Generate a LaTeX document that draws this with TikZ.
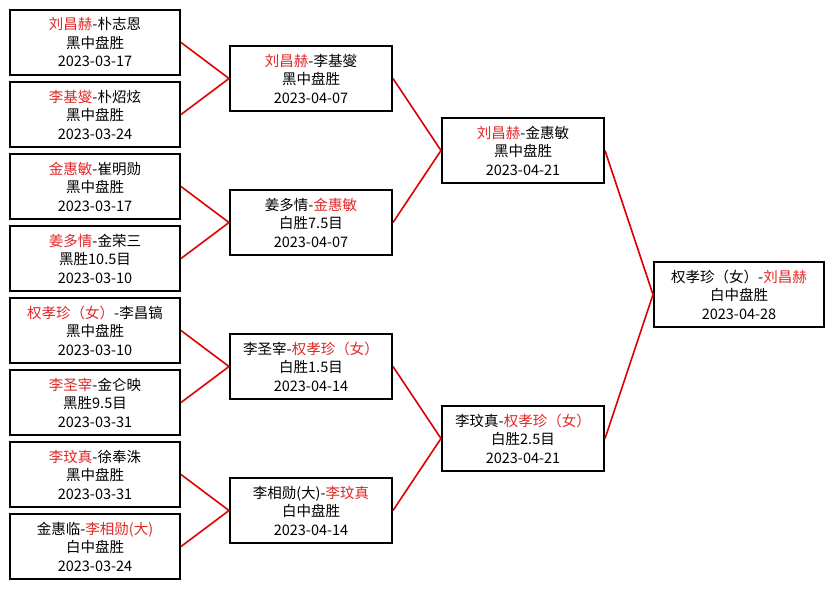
\documentclass[tikz,border=0pt]{standalone}
\usepackage{fontspec}
\setmainfont{Noto Sans CJK SC}
\usepackage{xcolor}
\usetikzlibrary{positioning}
\definecolor{winred}{RGB}{225,40,40}
\definecolor{linkred}{RGB}{225,0,0}
\newcommand{\win}[1]{\textcolor{winred}{#1}}
\tikzset{
  game/.style={draw, line width=2pt, minimum height=65pt, inner sep=0pt,
    align=center, font=\fontsize{14.5}{18.5}\selectfont},
  wide/.style={game, minimum width=170pt},
  narrow/.style={game, minimum width=162pt},
  link/.style={linkred, line width=1.6pt}
}
\begin{document}
\begin{tikzpicture}[x=1pt,y=-1pt]
        \def\ca{95}
        \def\cb{311}
        \def\cc{523}
        \def\cd{739}
        \useasboundingbox (0,0) rectangle (835,589);
        \fill[white] (0,0) rectangle (835,589);
        %First round
        \node[wide] (ra) at (\ca,42.5) {\win{刘昌赫}-朴志恩\\黑中盘胜\\2023-03-17};
        \node[wide] (rb) at (\ca,114.5) {\win{李基燮}-朴炤炫\\黑中盘胜\\2023-03-24};
        \node[wide] (rc) at (\ca,186.5) {\win{金惠敏}-崔明勋\\黑中盘胜\\2023-03-17};
        \node[wide] (rd) at (\ca,258.5) {\win{姜多情}-金荣三\\黑胜10.5目\\2023-03-10};
        \node[wide] (re) at (\ca,330.5) {\win{权孝珍（女）}-李昌镐\\黑中盘胜\\2023-03-10};
        \node[wide] (rf) at (\ca,402.5) {\win{李圣宰}-金仑映\\黑胜9.5目\\2023-03-31};
        \node[wide] (rg) at (\ca,474.5) {\win{李玟真}-徐奉洙\\黑中盘胜\\2023-03-31};
        \node[wide] (rh) at (\ca,546.5) {金惠临-\win{李相勋(大)}\\白中盘胜\\2023-03-24};
        %Quarter finals
        \node[narrow] (qa) at (\cb,78.5) {\win{刘昌赫}-李基燮\\黑中盘胜\\2023-04-07};
        \node[narrow] (qb) at (\cb,222.5) {姜多情-\win{金惠敏}\\白胜7.5目\\2023-04-07};
        \node[narrow] (qc) at (\cb,366.5) {李圣宰-\win{权孝珍（女）}\\白胜1.5目\\2023-04-14};
        \node[narrow] (qd) at (\cb,510.5) {李相勋(大)-\win{李玟真}\\白中盘胜\\2023-04-14};
        %Semi finals
        \node[narrow] (sa) at (\cc,150.5) {\win{刘昌赫}-金惠敏\\黑中盘胜\\2023-04-21};
        \node[narrow] (sb) at (\cc,438.5) {李玟真-\win{权孝珍（女）}\\白胜2.5目\\2023-04-21};
        %Final
        \node[wide] (fa) at (\cd,294.5) {权孝珍（女）-\win{刘昌赫}\\白中盘胜\\2023-04-28};
        %Draw lines
        \draw[link] (ra.east) -- (qa.west) -- (rb.east);
        \draw[link] (rc.east) -- (qb.west) -- (rd.east);
        \draw[link] (re.east) -- (qc.west) -- (rf.east);
        \draw[link] (rg.east) -- (qd.west) -- (rh.east);
        \draw[link] (qa.east) -- (sa.west) -- (qb.east);
        \draw[link] (qc.east) -- (sb.west) -- (qd.east);
        \draw[link] (sa.east) -- (fa.west) -- (sb.east);
\end{tikzpicture}
\end{document}
